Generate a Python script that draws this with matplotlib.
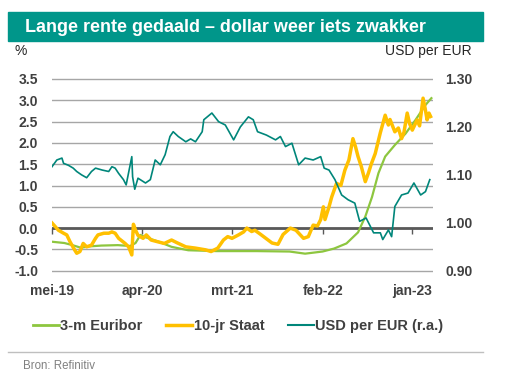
import matplotlib.pyplot as plt
import matplotlib.dates as mdates
import pandas as pd
from matplotlib.patches import Rectangle
from matplotlib.lines import Line2D

plt.rcParams['font.family'] = ['Liberation Sans', 'DejaVu Sans']
plt.rcParams['axes.unicode_minus'] = False

# 3-m Euribor (%)
euribor_dates = ["2019-05-01", "2019-06-16", "2019-07-16", "2019-08-16", "2019-09-16",
                 "2019-11-01", "2020-01-01", "2020-02-16", "2020-03-07", "2020-03-25",
                 "2020-04-16", "2020-06-01", "2020-07-19", "2020-09-19", "2021-01-01",
                 "2021-06-01", "2021-10-01", "2021-11-28", "2022-02-01", "2022-03-16",
                 "2022-05-01", "2022-06-13", "2022-07-10", "2022-08-04", "2022-08-28",
                 "2022-09-22", "2022-10-28", "2022-12-07", "2023-01-13", "2023-02-19",
                 "2023-03-13"]
euribor = [-0.32, -0.35, -0.40, -0.46, -0.43,
           -0.41, -0.40, -0.42, -0.35, -0.16,
           -0.22, -0.32, -0.44, -0.52, -0.54,
           -0.54, -0.55, -0.60, -0.55, -0.48,
           -0.36, -0.10, 0.27, 0.73, 1.29,
           1.68, 1.95, 2.22, 2.54, 2.89,
           3.05]

# 10-jr Staat (%)
staat_dates = ["2019-05-01", "2019-05-25", "2019-06-13", "2019-06-25", "2019-07-07",
               "2019-07-25", "2019-08-01", "2019-08-13", "2019-08-25", "2019-09-07",
               "2019-09-25", "2019-10-10", "2019-10-19", "2019-11-10", "2019-11-28",
               "2019-12-10", "2019-12-22", "2020-01-04", "2020-01-28", "2020-02-10",
               "2020-02-22", "2020-02-28", "2020-03-07", "2020-03-16", "2020-04-04",
               "2020-04-16", "2020-05-04", "2020-05-28", "2020-06-22", "2020-07-19",
               "2020-08-07", "2020-09-10", "2020-10-16", "2020-11-22", "2020-12-13",
               "2021-01-07", "2021-01-28", "2021-02-13", "2021-03-01", "2021-03-25",
               "2021-04-13", "2021-04-25", "2021-05-13", "2021-05-25", "2021-06-16",
               "2021-07-07", "2021-07-28", "2021-08-19", "2021-09-07", "2021-10-04",
               "2021-10-25", "2021-11-22", "2021-12-10", "2021-12-28", "2022-01-13",
               "2022-01-25", "2022-02-04", "2022-02-10", "2022-02-25", "2022-03-07",
               "2022-03-25", "2022-04-10", "2022-04-25", "2022-05-10", "2022-05-25",
               "2022-06-04", "2022-06-13", "2022-06-25", "2022-07-10", "2022-07-22",
               "2022-08-01", "2022-08-16", "2022-09-04", "2022-09-22", "2022-10-04",
               "2022-10-10", "2022-10-28", "2022-11-10", "2022-11-22", "2022-12-01",
               "2022-12-13", "2022-12-22", "2023-01-01", "2023-01-19", "2023-01-28",
               "2023-02-10", "2023-02-18", "2023-02-25", "2023-03-04", "2023-03-10"]
staat = [0.12, -0.05, -0.12, -0.16, -0.32,
         -0.52, -0.59, -0.55, -0.36, -0.44,
         -0.40, -0.24, -0.16, -0.12, -0.12,
         -0.09, -0.12, -0.24, -0.36, -0.44,
         -0.63, 0.09, -0.05, -0.17, -0.24,
         -0.16, -0.28, -0.32, -0.36, -0.28,
         -0.34, -0.44, -0.47, -0.51, -0.55,
         -0.47, -0.28, -0.20, -0.24, -0.16,
         -0.09, 0.00, -0.08, -0.05, -0.15,
         -0.25, -0.35, -0.38, -0.15, 0.00,
         -0.05, -0.24, -0.20, 0.07, 0.05,
         0.20, 0.50, 0.20, 0.50, 0.73,
         1.05, 1.00, 1.36, 1.60, 2.10,
         1.90, 1.68, 1.45, 1.09, 1.30,
         1.50, 1.75, 2.24, 2.65, 2.42,
         2.55, 2.26, 2.35, 2.10, 2.25,
         2.70, 2.45, 2.30, 2.54, 2.40,
         3.05, 2.80, 2.54, 2.70, 2.62]

# USD per EUR (right axis)
usd_dates = ["2019-05-01", "2019-05-19", "2019-06-07", "2019-06-13", "2019-07-01",
             "2019-07-19", "2019-08-01", "2019-08-19", "2019-09-07", "2019-09-25",
             "2019-10-10", "2019-11-04", "2019-11-28", "2019-12-10", "2019-12-22",
             "2020-01-04", "2020-01-22", "2020-02-01", "2020-02-22", "2020-02-25",
             "2020-03-04", "2020-03-16", "2020-04-13", "2020-05-01", "2020-05-19",
             "2020-06-07", "2020-06-25", "2020-07-13", "2020-07-25", "2020-08-13",
             "2020-09-10", "2020-09-28", "2020-10-16", "2020-11-10", "2020-11-16",
             "2020-12-16", "2021-01-10", "2021-02-04", "2021-03-07", "2021-04-01",
             "2021-05-01", "2021-05-19", "2021-06-04", "2021-07-07", "2021-08-10",
             "2021-08-28", "2021-09-16", "2021-10-10", "2021-11-04", "2021-11-28",
             "2021-12-28", "2022-01-25", "2022-02-07", "2022-02-25", "2022-03-19",
             "2022-04-13", "2022-05-07", "2022-06-01", "2022-06-19", "2022-07-13",
             "2022-08-10", "2022-09-04", "2022-09-13", "2022-10-04", "2022-10-16",
             "2022-10-28", "2022-11-22", "2022-12-16", "2023-01-07", "2023-02-01",
             "2023-02-19", "2023-03-07"]
usd = [1.117, 1.131, 1.135, 1.124, 1.120,
       1.114, 1.107, 1.100, 1.094, 1.107,
       1.114, 1.110, 1.107, 1.117, 1.114,
       1.103, 1.090, 1.079, 1.138, 1.096,
       1.070, 1.093, 1.083, 1.090, 1.131,
       1.121, 1.142, 1.180, 1.190, 1.180,
       1.169, 1.175, 1.169, 1.190, 1.215,
       1.229, 1.211, 1.204, 1.173, 1.200,
       1.221, 1.215, 1.190, 1.183, 1.173,
       1.180, 1.159, 1.166, 1.121, 1.135,
       1.131, 1.138, 1.114, 1.110, 1.090,
       1.058, 1.048, 1.041, 1.003, 1.010,
       0.979, 0.979, 0.965, 0.985, 0.971,
       1.034, 1.058, 1.062, 1.083, 1.058,
       1.065, 1.090]

tick_dates = ["2019-05-01", "2020-04-01", "2021-03-01", "2022-02-01", "2023-01-01"]
tick_labels = ["mei-19", "apr-20", "mrt-21", "feb-22", "jan-23"]
left_ticks = [-1.0, -0.5, 0.0, 0.5, 1.0, 1.5, 2.0, 2.5, 3.0, 3.5]
right_ticks = [0.90, 1.00, 1.10, 1.20, 1.30]

c_green = '#8DC63F'
c_yellow = '#FFC000'
c_teal = '#00867A'
c_text = '#404040'

W, H = 510, 379
fig = plt.figure(figsize=(W / 100, H / 100), dpi=100)

# title bar
fig.patches.append(Rectangle((8 / W, 1 - 41 / H), 475 / W, 29 / H,
                             transform=fig.transFigure, color='#00968A', zorder=0))
fig.text(25 / W, 1 - 27 / H, "Lange rente gedaald \u2013 dollar weer iets zwakker",
         color='white', fontsize=13, fontweight='bold', va='center', ha='left')
fig.text(15 / W, 1 - 51 / H, "%", fontsize=10, color='#262626', va='center')
fig.text(472 / W, 1 - 51 / H, "USD per EUR", fontsize=10, color='#262626',
         va='center', ha='right')

# plot area: -1.0 at y=270.7px, 3.5 at y=79px
px_unit = 42.6
top_px = 79 - 0.05 * px_unit
bot_px = 270.7 + 0.05 * px_unit
ax = fig.add_axes([52 / W, 1 - bot_px / H, 381 / W, (bot_px - top_px) / H])
ax.set_ylim(-1.05, 3.55)
ax.set_xlim(pd.Timestamp("2019-05-01"), pd.Timestamp("2023-03-19"))
for s in ax.spines.values():
    s.set_visible(False)
ax.set_yticks(left_ticks)
ax.set_yticklabels([f"{v:.1f}" for v in left_ticks])
ax.tick_params(axis='y', length=0, pad=10, labelsize=10, labelcolor=c_text)
for lab in ax.get_yticklabels():
    lab.set_fontweight('bold')
ax.yaxis.grid(True, color='#A6A6A6', lw=1)
ax.axhline(0, color='#595959', lw=2, zorder=1.6)

# small tick marks hanging from the zero line
ax.spines['bottom'].set_position(('data', 0))
ax.set_xticks(pd.to_datetime(tick_dates))
ax.tick_params(axis='x', direction='out', length=4, width=1, color='#595959',
               labelbottom=False)

sec = ax.secondary_xaxis('bottom')
sec.set_xticks(mdates.date2num(pd.to_datetime(tick_dates)))
sec.set_xticklabels(tick_labels)
sec.tick_params(length=0, pad=8, labelsize=10, labelcolor=c_text)
for lab in sec.get_xticklabels():
    lab.set_fontweight('bold')
sec.spines['bottom'].set_visible(False)

ax.plot(pd.to_datetime(euribor_dates), euribor, color=c_green, lw=1.6, zorder=2)
ax.plot(pd.to_datetime(staat_dates), staat, color=c_yellow, lw=2.5, zorder=2.1)

ax2 = ax.twinx()
k = 0.4 / 4.5
ax2.set_ylim(0.90 - 0.05 * k, 1.30 + 0.05 * k)
for s in ax2.spines.values():
    s.set_visible(False)
ax2.set_yticks(right_ticks)
ax2.set_yticklabels([f"{v:.2f}" for v in right_ticks])
ax2.tick_params(axis='y', length=0, pad=9, labelsize=10, labelcolor=c_text)
for lab in ax2.get_yticklabels():
    lab.set_fontweight('bold')
ax2.plot(pd.to_datetime(usd_dates), usd, color=c_teal, lw=1.2)

handles = [Line2D([], [], color=c_green, lw=2),
           Line2D([], [], color=c_yellow, lw=2.5),
           Line2D([], [], color=c_teal, lw=1.5)]
leg = fig.legend(handles, ["3-m Euribor", "10-jr Staat", "USD per EUR (r.a.)"],
                 loc='center', bbox_to_anchor=(238 / W, 1 - 326 / H), ncol=3,
                 frameon=False, handlelength=1.8, handletextpad=0.1,
                 columnspacing=1.6, prop={'size': 10.5, 'weight': 'bold'})
for t in leg.get_texts():
    t.set_color(c_text)

fig.add_artist(Line2D([8 / W, 483 / W], [1 - 352 / H, 1 - 352 / H],
                      transform=fig.transFigure, color='#BFBFBF', lw=1))
fig.text(23 / W, 1 - 366 / H, "Bron: Refinitiv", fontsize=8.3, color='#808080',
         va='center', ha='left')

fig.savefig("out.png", dpi=100)
